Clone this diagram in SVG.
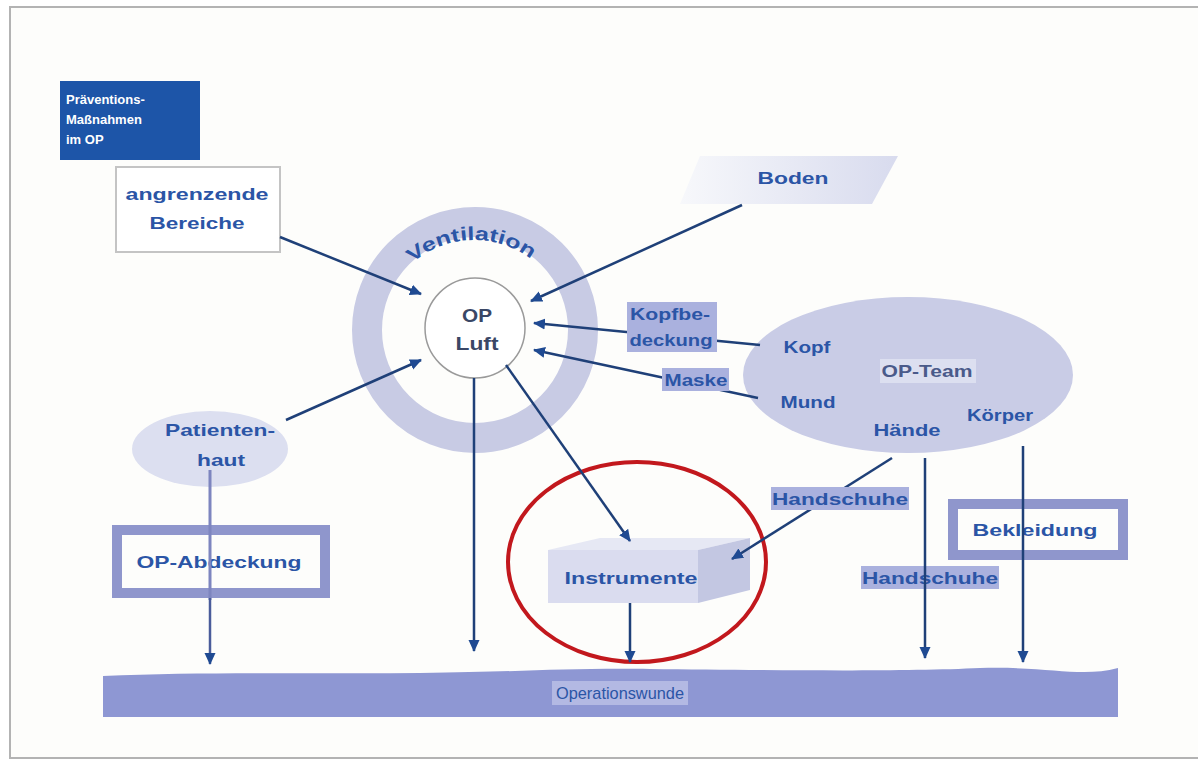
<svg xmlns="http://www.w3.org/2000/svg" width="1198" height="764" viewBox="0 0 1198 764">
<defs>
<marker id="ah" viewBox="0 0 12 12" refX="11" refY="6" markerWidth="12" markerHeight="12" orient="auto" markerUnits="userSpaceOnUse"><path d="M0,0.5 L12,6 L0,11.5 z" fill="#1f4a92"/></marker>
<linearGradient id="bodenG" x1="0" y1="0" x2="1" y2="0"><stop offset="0" stop-color="#f7f8fb"/><stop offset="1" stop-color="#d8dbee"/></linearGradient>
<path id="ventArc" d="M380,334 A94,94 0 0 1 568,334"/>
</defs>
<style>
.lbl{font-family:"Liberation Sans",Arial,sans-serif;font-weight:bold;font-size:17px;fill:#2b55a6;text-anchor:middle}
.dark{fill:#3a4766}
.title{font-family:"Liberation Sans",Arial,sans-serif;font-weight:bold;font-size:13px;fill:#ffffff}
.conn{stroke:#1f4078;stroke-width:2.5;fill:none}
.arr{marker-end:url(#ah)}
.frameBox{fill:none;stroke:#8f96cc;stroke-width:10}
.hl{fill:#aab1de}
</style>
<rect x="0" y="0" width="1198" height="764" fill="#ffffff"/>
<rect x="10" y="7" width="1200" height="751" fill="#fdfdfb" stroke="#b3b3b3" stroke-width="2"/>

<g id="titel">
<rect x="60" y="81" width="140" height="79" fill="#1d55a8"/>
<text class="title" x="66" y="104">Präventions-</text>
<text class="title" x="66" y="124">Maßnahmen</text>
<text class="title" x="66" y="144">im OP</text>
</g>

<g id="operationswunde">
<path d="M103,676 C200,672 300,674 420,673 C520,672 560,668 650,669 C760,670 900,672 980,668 C1050,666 1080,678 1118,668 L1118,717 L103,717 Z" fill="#8e97d3"/>
<rect x="552" y="681" width="136" height="24" fill="#b3b9e3"/>
<text class="lbl" x="620" y="699" textLength="128" lengthAdjust="spacingAndGlyphs" style="font-weight:normal;font-size:17px">Operationswunde</text>
</g>

<g id="ventilation">
<circle cx="475" cy="330" r="108" fill="none" stroke="#c8cbe4" stroke-width="30"/>
<text class="lbl" style="font-size:19px"><textPath href="#ventArc" startOffset="49%" textLength="128" lengthAdjust="spacingAndGlyphs">Ventilation</textPath></text>
</g>

<g id="angrenzende-bereiche">
<rect x="116" y="167" width="164" height="85" fill="#ffffff" stroke="#c4c4c4" stroke-width="2"/>
<text class="lbl" x="197" y="200" textLength="143" lengthAdjust="spacingAndGlyphs">angrenzende</text>
<text class="lbl" x="197" y="229" textLength="95" lengthAdjust="spacingAndGlyphs">Bereiche</text>
</g>

<g id="boden">
<polygon points="700,156 898,156 872,204 680,204" fill="url(#bodenG)"/>
<text class="lbl" x="793" y="184" textLength="71" lengthAdjust="spacingAndGlyphs">Boden</text>
</g>

<g id="patientenhaut">
<ellipse cx="210" cy="449" rx="78" ry="38" fill="#dcdff0"/>
<text class="lbl" x="220" y="436" textLength="110" lengthAdjust="spacingAndGlyphs">Patienten-</text>
<text class="lbl" x="221" y="466" textLength="48" lengthAdjust="spacingAndGlyphs">haut</text>
</g>

<g id="op-abdeckung">
<rect x="117" y="530" width="208" height="63" fill="#ffffff" class="frameBox"/>
<text class="lbl" x="219" y="568" textLength="165" lengthAdjust="spacingAndGlyphs">OP-Abdeckung</text>
</g>

<g id="op-team">
<ellipse cx="908" cy="375" rx="165" ry="78" fill="#c9cce6"/>
<rect x="880" y="359" width="96" height="24" fill="#dcdff0"/>
<text class="lbl" x="927" y="377" textLength="91" lengthAdjust="spacingAndGlyphs" style="fill:#4a5a8a">OP-Team</text>
<text class="lbl" x="807" y="353" textLength="47" lengthAdjust="spacingAndGlyphs">Kopf</text>
<text class="lbl" x="808" y="408" textLength="55" lengthAdjust="spacingAndGlyphs">Mund</text>
<text class="lbl" x="907" y="436" textLength="67" lengthAdjust="spacingAndGlyphs">Hände</text>
<text class="lbl" x="1000" y="421" textLength="66" lengthAdjust="spacingAndGlyphs">Körper</text>
</g>

<g id="bekleidung">
<rect x="953" y="504" width="170" height="51" fill="#ffffff" class="frameBox"/>
<text class="lbl" x="1035" y="536" textLength="125" lengthAdjust="spacingAndGlyphs">Bekleidung</text>
</g>

<g id="handschuhe-2">
<rect x="861" y="566" width="138" height="23" class="hl"/>
<text class="lbl" x="930" y="584" textLength="136" lengthAdjust="spacingAndGlyphs">Handschuhe</text>
</g>

<g id="instrumente">
<polygon points="548,550 600,538 750,538 698,550" fill="#e6e8f4"/>
<polygon points="698,550 750,538 750,590 698,603" fill="#c3c7e2"/>
<rect x="548" y="550" width="150" height="53" fill="#dadcef"/>
<text class="lbl" x="631" y="584" textLength="133" lengthAdjust="spacingAndGlyphs">Instrumente</text>
</g>

<g id="markierung">
<ellipse cx="637" cy="562" rx="129" ry="100" fill="none" stroke="#c2181d" stroke-width="4"/>
</g>

<g id="op-luft">
<circle cx="475" cy="328" r="50" fill="#ffffff" stroke="#9a9a9a" stroke-width="1.5"/>
<text class="lbl dark" x="477" y="322" textLength="30" lengthAdjust="spacingAndGlyphs" style="font-size:19px">OP</text>
<text class="lbl dark" x="477" y="350" textLength="43" lengthAdjust="spacingAndGlyphs" style="font-size:19px">Luft</text>
</g>

<g id="connectors">
<line class="conn arr" x1="280" y1="237" x2="421" y2="294"/>
<line class="conn arr" x1="742" y1="205" x2="531" y2="301"/>
<line class="conn arr" x1="760" y1="345" x2="534" y2="323"/>
<line class="conn arr" x1="758" y1="398" x2="534" y2="350"/>
<line class="conn arr" x1="286" y1="420" x2="421" y2="360"/>
<line class="conn arr" x1="474" y1="378" x2="474" y2="651"/>
<line class="conn arr" x1="506" y1="365" x2="630" y2="541"/>
<line class="conn arr" x1="892" y1="458" x2="732" y2="559"/>
<line class="conn arr" x1="925" y1="458" x2="925" y2="658"/>
<line class="conn arr" x1="1023" y1="446" x2="1023" y2="662"/>
<line class="conn arr" x1="630" y1="603" x2="630" y2="662"/>
<line x1="210" y1="470" x2="210" y2="600" stroke="#7d85bf" stroke-width="3"/>
<line class="conn arr" x1="210" y1="598" x2="210" y2="664" style="stroke:#4a5c9a"/>
</g>

<g id="kopfbedeckung">
<rect x="627" y="302" width="90" height="50" class="hl"/>
<text class="lbl" x="670" y="320" textLength="80" lengthAdjust="spacingAndGlyphs">Kopfbe-</text>
<text class="lbl" x="671" y="346" textLength="83" lengthAdjust="spacingAndGlyphs">deckung</text>
</g>

<g id="maske">
<rect x="662" y="368" width="67" height="23" class="hl"/>
<text class="lbl" x="696" y="386" textLength="63" lengthAdjust="spacingAndGlyphs">Maske</text>
</g>

<g id="handschuhe-1">
<rect x="771" y="487" width="138" height="23" class="hl"/>
<text class="lbl" x="840" y="505" textLength="136" lengthAdjust="spacingAndGlyphs">Handschuhe</text>
</g>
</svg>
